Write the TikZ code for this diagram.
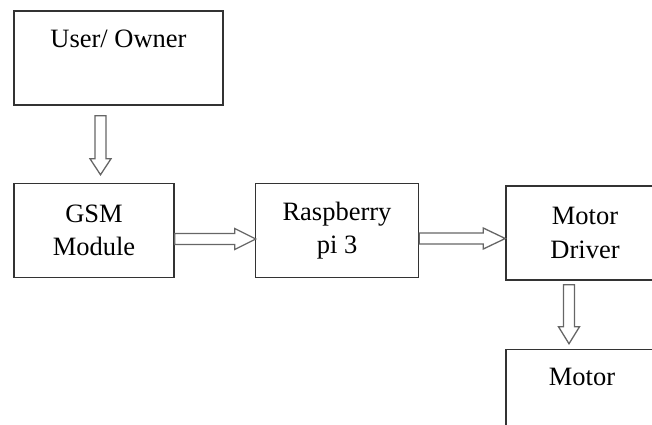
\documentclass[tikz,border=0pt]{standalone}
\usepackage{fontspec}
\setmainfont{Liberation Serif}
\newfontfamily\blockfont{Liberation Serif}
\usetikzlibrary{positioning,calc}

\tikzset{
  block/.style={draw=black!80, line width=1.5pt, minimum height=94pt, inner sep=0pt,
                align=center, font=\blockfont\fontsize{26.5}{33.5}\selectfont},
  hollow/.style={draw=black!60, line width=1.3pt, line join=miter, to path={
      ($(\tikztostart)!5.5pt!90:(\tikztotarget)$)
      -- ($($(\tikztotarget)!#1!(\tikztostart)$)!5.5pt!90:(\tikztotarget)$)
      -- ($($(\tikztotarget)!#1!(\tikztostart)$)!10.5pt!90:(\tikztotarget)$)
      -- (\tikztotarget)
      -- ($($(\tikztotarget)!#1!(\tikztostart)$)!10.5pt!-90:(\tikztotarget)$)
      -- ($($(\tikztotarget)!#1!(\tikztostart)$)!5.5pt!-90:(\tikztotarget)$)
      -- ($(\tikztostart)!5.5pt!-90:(\tikztotarget)$) -- cycle}},
  hollow/.default=20pt
}

\begin{document}
\begin{tikzpicture}[x=1pt, y=1pt]
  \path[use as bounding box, clip] (0,0) rectangle (652,-424);

  % blocks
  \node[block, minimum width=209pt] (user) at (118.5,-58) {User/ Owner\\ \phantom{Mg}};
  \node[block, minimum width=160pt, below=77pt of user.south west, anchor=north west] (gsm) {GSM\\Module};
  \node[block, minimum width=163pt, right=80pt of gsm] (rpi) {Raspberry\\pi 3};
  \node[block, minimum width=158pt, right=86pt of rpi, yshift=-2.5pt] (driver) {Motor\\Driver};
  \node[block, minimum width=152pt, below=68pt of driver.south west, anchor=north west] (motor) {Motor\\ \phantom{Mg}};

  % arrow ends
  \coordinate (u1) at ([xshift=-18pt, yshift=-10pt]user.south);
  \coordinate (g1) at ([xshift=6.5pt, yshift=8pt]gsm.north);
  \coordinate (g2) at ([yshift=-8.5pt]gsm.east);
  \coordinate (r1) at ([xshift=1pt, yshift=-8.5pt]rpi.west);
  \coordinate (r2) at ([yshift=-8pt]rpi.east);
  \coordinate (d1) at ([yshift=-5.5pt]driver.west);
  \coordinate (d2) at ([xshift=-16pt, yshift=-4pt]driver.south);
  \coordinate (m1) at ([xshift=-13pt, yshift=5pt]motor.north);

  \draw[hollow=16pt] (u1) to (g1); % user to gsm
  \draw[hollow=21pt] (g2) to (r1); % gsm to pi
  \draw[hollow=22pt] (r2) to (d1); % pi to driver
  \draw[hollow=17pt] (d2) to (m1); % driver to motor
\end{tikzpicture}
\end{document}
